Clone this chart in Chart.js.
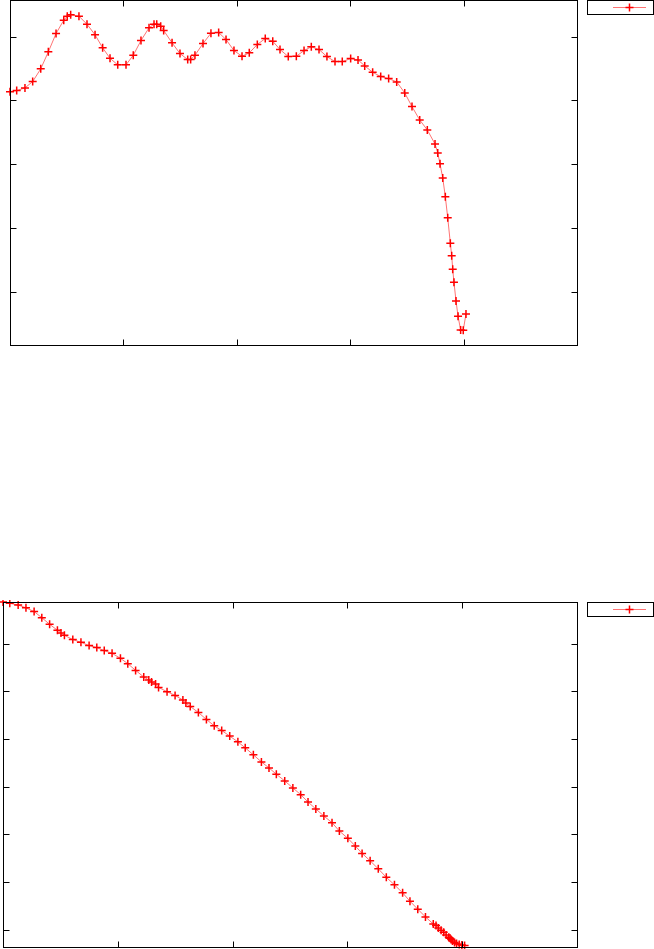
<!DOCTYPE html>
<html>
<head>
    <title>Two curves</title>
    <script src="https://cdn.jsdelivr.net/npm/chart.js"></script>
    <style>
        body { margin: 0; background: #fff; width: 654px; height: 949px; position: relative; overflow: hidden; }
        canvas { position: absolute; left: 0; }
        #topChart { top: 0; }
        #bottomChart { top: 600px; }
    </style>
</head>
<body>
    <canvas id="topChart" width="654" height="350"></canvas>
    <canvas id="bottomChart" width="654" height="349"></canvas>
    <script>
        // shared x values (both panels use the same samples)
        const xValues = [
            0.000, 0.059, 0.132, 0.200, 0.271, 0.338, 0.406, 0.474, 0.505, 0.535,
            0.608, 0.679, 0.750, 0.817, 0.882, 0.950, 1.023, 1.087, 1.155, 1.226,
            1.270, 1.294, 1.329, 1.355, 1.429, 1.499, 1.567, 1.593, 1.631, 1.702,
            1.772, 1.840, 1.905, 1.975, 2.046, 2.110, 2.181, 2.251, 2.317, 2.381,
            2.454, 2.525, 2.593, 2.657, 2.725, 2.795, 2.866, 2.930, 3.004, 3.069,
            3.128, 3.198, 3.269, 3.339, 3.410, 3.481, 3.545, 3.613, 3.680, 3.748,
            3.772, 3.792, 3.816, 3.839, 3.860, 3.883, 3.895, 3.904, 3.915, 3.933,
            3.951, 3.974, 3.997, 4.021
        ];

        const topValues = [
            4.136, 4.152, 4.195, 4.294, 4.493, 4.760, 5.047, 5.256, 5.319, 5.341,
            5.319, 5.193, 5.027, 4.823, 4.659, 4.556, 4.556, 4.707, 4.937, 5.137,
            5.193, 5.193, 5.162, 5.095, 4.901, 4.733, 4.639, 4.639, 4.707, 4.890,
            5.052, 5.063, 4.953, 4.780, 4.691, 4.744, 4.875, 4.969, 4.927, 4.796,
            4.686, 4.691, 4.780, 4.839, 4.796, 4.686, 4.607, 4.607, 4.654, 4.634,
            4.540, 4.440, 4.372, 4.341, 4.289, 4.116, 3.901, 3.692, 3.535, 3.315,
            3.174, 3.006, 2.781, 2.487, 2.158, 1.760, 1.561, 1.352, 1.148, 0.854,
            0.614, 0.398, 0.394, 0.650
        ];

        const bottomValues = [
            7.873, 7.846, 7.810, 7.751, 7.673, 7.543, 7.406, 7.280, 7.225, 7.175,
            7.084, 7.027, 6.958, 6.916, 6.853, 6.796, 6.691, 6.579, 6.438, 6.300,
            6.237, 6.195, 6.152, 6.081, 5.991, 5.913, 5.816, 5.753, 5.681, 5.555,
            5.408, 5.275, 5.177, 5.059, 4.939, 4.813, 4.666, 4.518, 4.392, 4.260,
            4.119, 3.972, 3.831, 3.677, 3.530, 3.383, 3.242, 3.067, 2.914, 2.752,
            2.598, 2.443, 2.274, 2.096, 1.938, 1.770, 1.595, 1.427, 1.265, 1.118,
            1.084, 1.034, 0.985, 0.943, 0.886, 0.838, 0.817, 0.790, 0.760, 0.727,
            0.706, 0.685, 0.676, 0.664
        ];

        // tick positions (no labels are shown in the original)
        const xTicks = [1, 2, 3, 4];
        const topYTicks = [1, 2, 3, 4, 5];
        const bottomYTicks = [1, 2, 3, 4, 5, 6, 7];

        const lineColor = 'rgba(255, 0, 0, 0.55)';
        const markColor = '#ff0000';

        // gnuplot-like frame: box, inward mirrored ticks, key box on the right
        const framePlugin = {
            id: 'frame',
            afterDraw(chart, args, opts) {
                const ctx = chart.ctx;
                const a = chart.chartArea;
                const xs = chart.scales.x, ys = chart.scales.y;
                const L = Math.round(a.left) + 0.5, R = Math.round(a.right) + 0.5;
                const T = Math.round(a.top) + 0.5, B = Math.round(a.bottom) + 0.5;
                const len = 6;
                ctx.save();
                ctx.strokeStyle = '#000';
                ctx.lineWidth = 1;
                ctx.beginPath();
                opts.xTicks.forEach(v => {
                    const px = Math.round(xs.getPixelForValue(v)) + 0.5;
                    ctx.moveTo(px, B); ctx.lineTo(px, B - len);
                    ctx.moveTo(px, T); ctx.lineTo(px, T + len);
                });
                opts.yTicks.forEach(v => {
                    const py = Math.round(ys.getPixelForValue(v)) + 0.5;
                    ctx.moveTo(L, py); ctx.lineTo(L + len, py);
                    ctx.moveTo(R, py); ctx.lineTo(R - len, py);
                });
                ctx.stroke();
                ctx.strokeRect(L, T, R - L, B - T);

                // key
                const k = opts.key;
                ctx.strokeRect(k.x + 0.5, k.y + 0.5, k.w, k.h);
                const ky = Math.round(k.y + k.h / 2) + 0.5;
                ctx.strokeStyle = lineColor;
                ctx.beginPath();
                ctx.moveTo(k.x + 26, ky); ctx.lineTo(k.x + 59, ky);
                ctx.stroke();
                ctx.strokeStyle = markColor;
                ctx.lineWidth = 1.5;
                const cx = k.x + 42.5;
                ctx.beginPath();
                ctx.moveTo(cx - 4, ky); ctx.lineTo(cx + 4, ky);
                ctx.moveTo(cx, ky - 4); ctx.lineTo(cx, ky + 4);
                ctx.stroke();
                ctx.restore();
            }
        };

        function makeChart(id, values, yMin, yMax, yTicks, padding, key) {
            const ctx = document.getElementById(id).getContext('2d');
            const points = xValues.map((x, i) => ({ x: x, y: values[i] }));
            return new Chart(ctx, {
                type: 'line',
                data: {
                    datasets: [{
                        label: '',
                        data: points,
                        borderColor: lineColor,
                        borderWidth: 1,
                        pointStyle: 'cross',
                        pointRadius: 4,
                        pointBorderColor: markColor,
                        pointBorderWidth: 1.5,
                        fill: false,
                        tension: 0,
                        clip: false
                    }]
                },
                options: {
                    responsive: false,
                    animation: false,
                    devicePixelRatio: 1,
                    layout: { padding: padding, autoPadding: false },
                    plugins: {
                        legend: { display: false },
                        tooltip: { enabled: false },
                        frame: { xTicks: xTicks, yTicks: yTicks, key: key }
                    },
                    scales: {
                        x: { type: 'linear', min: 0, max: 5, display: false },
                        y: { type: 'linear', min: yMin, max: yMax, display: false }
                    }
                },
                plugins: [framePlugin]
            });
        }

        makeChart('topChart', topValues, 0.163, 5.573, topYTicks,
            { left: 10, right: 77, top: 0, bottom: 5 },
            { x: 587, y: 0, w: 66, h: 14 });

        makeChart('bottomChart', bottomValues, 0.634, 7.873, bottomYTicks,
            { left: 3, right: 77, top: 2, bottom: 2 },
            { x: 587, y: 2, w: 66, h: 14 });
    </script>
</body>
</html>
